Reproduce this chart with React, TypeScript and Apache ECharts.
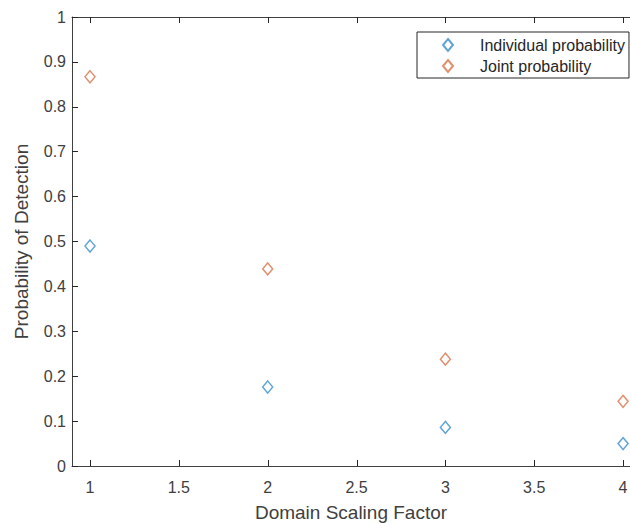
import React, { useEffect, useRef } from "react";
import * as echarts from "echarts";

const scalingFactors = [1, 2, 3, 4];
const individualProb = [0.49, 0.176, 0.086, 0.05];
const jointProb = [0.867, 0.439, 0.238, 0.144];
const xTicks = [1, 1.5, 2, 2.5, 3, 3.5, 4];
const seriesNames = ["Individual probability", "Joint probability"];
const colors = ["#3a8fcb", "#d8744a"];

const FONT = "'Liberation Sans', Arial, Helvetica, sans-serif";
const AXIS_COLOR = "#404040";
const TICK_COLOR = "#262626";
const TICK_LEN = 6;

export default function App() {
  const ref = useRef<HTMLDivElement>(null);
  useEffect(() => {
    document.body.style.margin = "0";
    const chart = echarts.init(ref.current!, null, { renderer: "svg" });
    const mk = (vals: number[]) => scalingFactors.map((x, i) => [x, vals[i]]);
    chart.setOption({
      animation: false,
      backgroundColor: "#ffffff",
      textStyle: { fontFamily: FONT },
      grid: {
        left: 72,
        top: 17,
        right: 0,
        height: 449,
        containLabel: false,
        outerBoundsMode: "none",
      },
      legend: {
        orient: "vertical",
        left: 417,
        top: 32,
        data: seriesNames,
        itemWidth: 10,
        itemHeight: 12,
        itemGap: 5,
        padding: [5, 4, 4, 25],
        borderColor: "#262626",
        borderWidth: 1,
        backgroundColor: "#ffffff",
        borderRadius: 0,
        textStyle: {
          fontFamily: FONT,
          fontSize: 16,
          lineHeight: 16,
          color: "#262626",
          padding: [0, 0, 0, 22],
        },
      },
      xAxis: [
        {
          type: "value",
          min: 0.8987,
          max: 4.039,
          position: "bottom",
          splitLine: { show: false },
          axisLine: { show: true, onZero: false, lineStyle: { color: AXIS_COLOR, width: 1 } },
          axisTick: { show: false },
          name: "Domain Scaling Factor",
          nameLocation: "middle",
          nameGap: 37,
          nameTextStyle: { fontFamily: FONT, fontSize: 19, color: AXIS_COLOR },
          axisLabel: {
            show: true,
            customValues: xTicks,
            margin: 13,
            fontFamily: FONT,
            fontSize: 16,
            color: AXIS_COLOR,
            formatter: (v: number) => String(v),
          },
        },
        {
          type: "value",
          min: 0.8987,
          max: 4.039,
          position: "top",
          splitLine: { show: false },
          axisLine: { show: true, onZero: false, lineStyle: { color: AXIS_COLOR, width: 1 } },
          axisTick: { show: false },
          axisLabel: { show: false },
        },
      ],
      yAxis: {
        type: "value",
        min: 0,
        max: 1,
        interval: 0.1,
        splitLine: { show: false },
        axisLine: { show: true, lineStyle: { color: AXIS_COLOR, width: 1 } },
        axisTick: { show: true, inside: true, length: TICK_LEN, lineStyle: { color: TICK_COLOR } },
        axisLabel: {
          margin: 6,
          fontFamily: FONT,
          fontSize: 16,
          color: AXIS_COLOR,
          formatter: (v: number) => String(Math.round(v * 10) / 10),
        },
        name: "Probability of Detection",
        nameLocation: "middle",
        nameGap: 41,
        nameTextStyle: { fontFamily: FONT, fontSize: 19, color: AXIS_COLOR },
      },
      series: [
        {
          name: seriesNames[0],
          type: "scatter",
          xAxisIndex: 0,
          data: mk(individualProb),
          symbol: "diamond",
          symbolSize: [10, 12],
          itemStyle: { color: "#ffffff", borderColor: colors[0], borderWidth: 1.5 },
        },
        {
          name: seriesNames[1],
          type: "scatter",
          xAxisIndex: 0,
          data: mk(jointProb),
          symbol: "diamond",
          symbolSize: [10, 12],
          itemStyle: { color: "#ffffff", borderColor: colors[1], borderWidth: 1.5 },
        },
        {
          name: "xTickMarks",
          type: "custom",
          xAxisIndex: 0,
          silent: true,
          clip: false,
          data: xTicks.map((x) => [x]),
          encode: { x: 0 },
          renderItem: (params: any, api: any) => {
            const top = api.coord([api.value(0), 1]);
            const bottom = api.coord([api.value(0), 0]);
            const px = Math.round(top[0]) + 0.5;
            return {
              type: "group",
              children: [
                {
                  type: "line",
                  shape: { x1: px, y1: top[1], x2: px, y2: top[1] + TICK_LEN },
                  style: { stroke: TICK_COLOR, lineWidth: 1 },
                },
                {
                  type: "line",
                  shape: { x1: px, y1: bottom[1], x2: px, y2: bottom[1] - TICK_LEN },
                  style: { stroke: TICK_COLOR, lineWidth: 1 },
                },
              ],
            };
          },
          z: 1,
        },
      ],
    });
    return () => chart.dispose();
  }, []);
  return <div ref={ref} style={{ width: 630, height: 523 }} />;
}
